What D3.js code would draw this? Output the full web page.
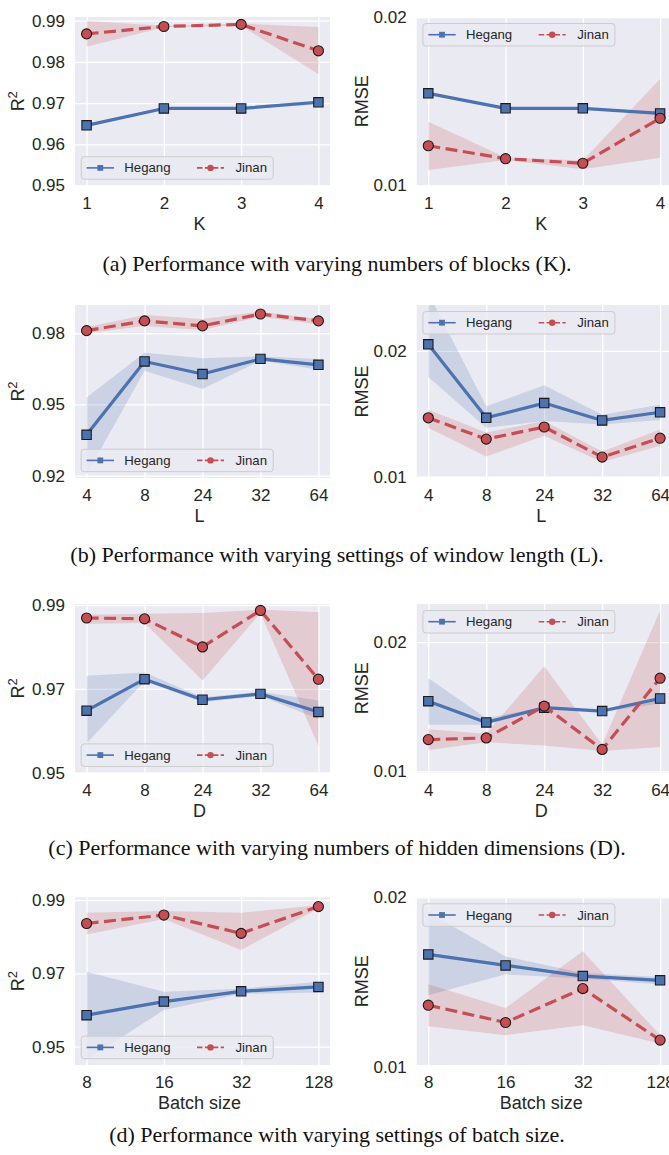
<!DOCTYPE html>
<html>
<head>
<meta charset="utf-8">
<script src="https://cdn.jsdelivr.net/npm/d3@7"></script>
<style>
  body { margin: 0; background: #fff; }
  svg { display: block; }
  .tick text { font-family: "Liberation Sans", Arial, sans-serif; font-size: 17px; fill: #262626; }
</style>
</head>
<body>
<svg id="fig" width="669" height="1155"></svg>
<script>
// ---- categories ----
const blockCounts = ["1", "2", "3", "4"];
const windowLengths = ["4", "8", "24", "32", "64"];
const hiddenDims = ["4", "8", "24", "32", "64"];
const batchSizes = ["8", "16", "32", "128"];

// ---- y tick values ----
const r2TicksK = [0.95, 0.96, 0.97, 0.98, 0.99];
const r2TicksL = [0.92, 0.95, 0.98];
const r2TicksD = [0.95, 0.97, 0.99];
const r2TicksB = [0.95, 0.97, 0.99];
const rmseTicks = [0.01, 0.02];

// ---- (a) number of blocks K ----
const r2HegangK     = [0.9646, 0.9687, 0.9687, 0.9702];
const r2HegangKLo   = [0.9643, 0.9684, 0.9684, 0.9697];
const r2HegangKHi   = [0.9649, 0.9690, 0.9690, 0.9707];
const r2JinanK      = [0.9868, 0.9886, 0.9891, 0.9827];
const r2JinanKLo    = [0.9837, 0.9884, 0.9888, 0.9770];
const r2JinanKHi    = [0.9899, 0.9888, 0.9893, 0.9885];
const rmseHegangK   = [0.01547, 0.01458, 0.01458, 0.01428];
const rmseHegangKLo = [0.01544, 0.01455, 0.01455, 0.01418];
const rmseHegangKHi = [0.01550, 0.01461, 0.01461, 0.01438];
const rmseJinanK    = [0.01236, 0.01159, 0.01132, 0.01399];
const rmseJinanKLo  = [0.01092, 0.01152, 0.01096, 0.01165];
const rmseJinanKHi  = [0.01379, 0.01166, 0.01149, 0.01632];

// ---- (b) window length L ----
const r2HegangL     = [0.9372, 0.9681, 0.9628, 0.9692, 0.9667];
const r2HegangLLo   = [0.9205, 0.9642, 0.9565, 0.9685, 0.9646];
const r2HegangLHi   = [0.9529, 0.9718, 0.9695, 0.9702, 0.9691];
const r2JinanL      = [0.9811, 0.9852, 0.9831, 0.9881, 0.9852];
const r2JinanLLo    = [0.9800, 0.9831, 0.9814, 0.9870, 0.9838];
const r2JinanLHi    = [0.9825, 0.9877, 0.9860, 0.9891, 0.9860];
const rmseHegangL   = [0.02052, 0.01468, 0.01585, 0.01447, 0.01512];
const rmseHegangLLo = [0.01793, 0.01390, 0.01442, 0.01415, 0.01450];
const rmseHegangLHi = [0.02460, 0.01559, 0.01727, 0.01493, 0.01571];
const rmseJinanL    = [0.01468, 0.01299, 0.01395, 0.01156, 0.01306];
const rmseJinanLLo  = [0.01390, 0.01161, 0.01325, 0.01117, 0.01247];
const rmseJinanLHi  = [0.01532, 0.01351, 0.01442, 0.01200, 0.01376];

// ---- (c) hidden dimensions D ----
const r2HegangD     = [0.9648, 0.9723, 0.9674, 0.9688, 0.9645];
const r2HegangDLo   = [0.9570, 0.9718, 0.9668, 0.9683, 0.9628];
const r2HegangDHi   = [0.9731, 0.9739, 0.9680, 0.9693, 0.9672];
const r2JinanD      = [0.9869, 0.9867, 0.9800, 0.9887, 0.9723];
const r2JinanDLo    = [0.9855, 0.9857, 0.9720, 0.9881, 0.9564];
const r2JinanDHi    = [0.9877, 0.9879, 0.9881, 0.9889, 0.9883];
const rmseHegangD   = [0.01543, 0.01379, 0.01493, 0.01467, 0.01564];
const rmseHegangDLo = [0.01360, 0.01360, 0.01485, 0.01460, 0.01525];
const rmseHegangDHi = [0.01721, 0.01411, 0.01501, 0.01474, 0.01584];
const rmseJinanD    = [0.01246, 0.01259, 0.01505, 0.01170, 0.01721];
const rmseJinanDLo  = [0.01165, 0.01226, 0.01200, 0.01158, 0.01188];
const rmseJinanDHi  = [0.01327, 0.01292, 0.01813, 0.01208, 0.02244];

// ---- (d) batch size ----
const r2HegangB     = [0.9586, 0.9623, 0.9651, 0.9663];
const r2HegangBLo   = [0.9464, 0.9600, 0.9644, 0.9648];
const r2HegangBHi   = [0.9704, 0.9650, 0.9658, 0.9677];
const r2JinanB      = [0.9836, 0.9859, 0.9809, 0.9882];
const r2JinanBLo    = [0.9806, 0.9848, 0.9764, 0.9877];
const r2JinanBHi    = [0.9865, 0.9870, 0.9865, 0.9886];
const rmseHegangB   = [0.01663, 0.01598, 0.01535, 0.01510];
const rmseHegangBLo = [0.01422, 0.01545, 0.01520, 0.01485];
const rmseHegangBHi = [0.01912, 0.01651, 0.01553, 0.01529];
const rmseJinanB    = [0.01363, 0.01261, 0.01461, 0.01157];
const rmseJinanBLo  = [0.01239, 0.01186, 0.01245, 0.01137];
const rmseJinanBHi  = [0.01486, 0.01347, 0.01681, 0.01186];

const seriesNames = ["Hegang", "Jinan"];
const captions = [
  "(a) Performance with varying numbers of blocks (K).",
  "(b) Performance with varying settings of window length (L).",
  "(c) Performance with varying numbers of hidden dimensions (D).",
  "(d) Performance with varying settings of batch size."
];

// ---- styling ----
const BLUE = "#4C72B0", RED = "#C44E52", FACE = "#EAEAF2";
const SANS = "'Liberation Sans', Arial, sans-serif";
const SERIF = "'Liberation Serif', 'Times New Roman', serif";
const PLOT_W = 255;
const COL_X = [75, 416.7];

function series(v, lo, hi) { return { v, lo, hi }; }

const rows = [
  { cats: blockCounts, xLabel: "K", top: 17, bottom: 185.5, captionY: 270.5,
    panels: [
      { metric: "r2", domain: [0.95, 0.9909], ticks: r2TicksK, legend: "bottom",
        hegang: series(r2HegangK, r2HegangKLo, r2HegangKHi), jinan: series(r2JinanK, r2JinanKLo, r2JinanKHi) },
      { metric: "rmse", domain: [0.01, 0.02], ticks: rmseTicks, legend: "top",
        hegang: series(rmseHegangK, rmseHegangKLo, rmseHegangKHi), jinan: series(rmseJinanK, rmseJinanKLo, rmseJinanKHi) }
    ] },
  { cats: windowLengths, xLabel: "L", top: 305, bottom: 478, captionY: 562,
    panels: [
      { metric: "r2", domain: [0.9190, 0.9919], ticks: r2TicksL, legend: "bottom",
        hegang: series(r2HegangL, r2HegangLLo, r2HegangLHi), jinan: series(r2JinanL, r2JinanLLo, r2JinanLHi) },
      { metric: "rmse", domain: [0.0099, 0.02364], ticks: rmseTicks, legend: "top",
        hegang: series(rmseHegangL, rmseHegangLLo, rmseHegangLHi), jinan: series(rmseJinanL, rmseJinanLLo, rmseJinanLHi) }
    ] },
  { cats: hiddenDims, xLabel: "D", top: 604, bottom: 772.7, captionY: 855,
    panels: [
      { metric: "r2", domain: [0.95, 0.99024], ticks: r2TicksD, legend: "bottom",
        hegang: series(r2HegangD, r2HegangDLo, r2HegangDHi), jinan: series(r2JinanD, r2JinanDLo, r2JinanDHi) },
      { metric: "rmse", domain: [0.0099, 0.02295], ticks: rmseTicks, legend: "top",
        hegang: series(rmseHegangD, rmseHegangDLo, rmseHegangDHi), jinan: series(rmseJinanD, rmseJinanDLo, rmseJinanDHi) }
    ] },
  { cats: batchSizes, xLabel: "Batch size", top: 897.3, bottom: 1065, captionY: 1142,
    panels: [
      { metric: "r2", domain: [0.9450, 0.99074], ticks: r2TicksB, legend: "bottom",
        hegang: series(r2HegangB, r2HegangBLo, r2HegangBHi), jinan: series(r2JinanB, r2JinanBLo, r2JinanBHi) },
      { metric: "rmse", domain: [0.0101, 0.0200], ticks: rmseTicks, legend: "top",
        hegang: series(rmseHegangB, rmseHegangBLo, rmseHegangBHi), jinan: series(rmseJinanB, rmseJinanBLo, rmseJinanBHi) }
    ] }
];

const svg = d3.select("#fig");
let clipId = 0;

function drawPanel(row, panel, x0) {
  const { cats, top, bottom } = row;
  const h = bottom - top;
  const g = svg.append("g");

  const x = d3.scalePoint().domain(cats).range([x0, x0 + PLOT_W]).padding(0.05 * (cats.length - 1));
  const y = d3.scaleLinear().domain(panel.domain).range([bottom, top]);

  const id = "clip" + (clipId++);
  svg.append("clipPath").attr("id", id)
    .append("rect").attr("x", x0).attr("y", top).attr("width", PLOT_W).attr("height", h);

  g.append("rect").attr("x", x0).attr("y", top).attr("width", PLOT_W).attr("height", h).attr("fill", FACE);

  // y grid + tick labels
  const yAxis = g.append("g").attr("transform", `translate(${x0},0)`)
    .call(d3.axisLeft(y).tickValues(panel.ticks).tickSize(-PLOT_W).tickPadding(10).tickFormat(d3.format(".2f")));
  yAxis.select(".domain").remove();
  yAxis.selectAll(".tick line").attr("stroke", "#fff").attr("stroke-width", 1.3);

  // x grid + tick labels
  const xAxis = g.append("g").attr("transform", `translate(0,${bottom})`)
    .call(d3.axisBottom(x).tickSize(-h).tickPadding(11));
  xAxis.select(".domain").remove();
  xAxis.selectAll(".tick line").attr("stroke", "#fff").attr("stroke-width", 1.3);
  xAxis.selectAll(".tick text").attr("dy", "0.72em");

  // x axis label
  g.append("text").attr("x", x0 + PLOT_W / 2 - 3).attr("y", bottom + 44)
    .attr("text-anchor", "middle").attr("font-family", SANS).attr("font-size", 18).attr("fill", "#262626")
    .text(row.xLabel);

  // y axis label
  const yl = g.append("text")
    .attr("transform", `translate(${x0 - (panel.metric === "r2" ? 51.5 : 48.5)},${(top + bottom) / 2}) rotate(-90)`)
    .attr("text-anchor", "middle").attr("font-family", SANS).attr("font-size", 18).attr("fill", "#262626");
  if (panel.metric === "r2") {
    yl.append("tspan").text("R");
    yl.append("tspan").attr("dy", -7).attr("font-size", 13).text("2");
  } else {
    yl.text("RMSE");
  }

  const plot = g.append("g").attr("clip-path", `url(#${id})`);
  const defs = [
    { s: panel.hegang, color: BLUE, dash: null, shape: d3.symbolSquare, size: 88 },
    { s: panel.jinan, color: RED, dash: "12,5.5", shape: d3.symbolCircle, size: 80 }
  ];

  defs.forEach(d => {
    const pts = cats.map((c, i) => ({ c, v: d.s.v[i], lo: d.s.lo[i], hi: d.s.hi[i] }));
    plot.append("path").datum(pts)
      .attr("d", d3.area().x(p => x(p.c)).y0(p => y(p.lo)).y1(p => y(p.hi)))
      .attr("fill", d.color).attr("fill-opacity", 0.2);
  });
  defs.forEach(d => {
    const pts = cats.map((c, i) => ({ c, v: d.s.v[i] }));
    plot.append("path").datum(pts)
      .attr("d", d3.line().x(p => x(p.c)).y(p => y(p.v)))
      .attr("fill", "none").attr("stroke", d.color).attr("stroke-width", 3.2)
      .attr("stroke-dasharray", d.dash).attr("stroke-linejoin", "round");
    plot.selectAll(null).data(pts).join("path")
      .attr("transform", p => `translate(${x(p.c)},${y(p.v)})`)
      .attr("d", d3.symbol(d.shape, d.size))
      .attr("fill", d.color).attr("stroke", "#1a1a1a").attr("stroke-width", 1.1);
  });

  // legend
  const ly = panel.legend === "bottom" ? bottom - 28.8 : top + 6.5;
  const lg = g.append("g").attr("transform", `translate(${x0},${ly})`);
  lg.append("rect").attr("x", 6.2).attr("y", 0).attr("width", 192).attr("height", 22.5).attr("rx", 3)
    .attr("fill", FACE).attr("fill-opacity", 0.8).attr("stroke", "#cccccc").attr("stroke-width", 1);
  const items = [
    { name: seriesNames[0], color: BLUE, dash: null, shape: d3.symbolSquare, size: 34, x1: 11.6, x2: 39, tx: 49.3 },
    { name: seriesNames[1], color: RED, dash: "5.5,2.4", shape: d3.symbolCircle, size: 32, x1: 122, x2: 149, tx: 160.5 }
  ];
  items.forEach(it => {
    lg.append("line").attr("x1", it.x1).attr("x2", it.x2).attr("y1", 11.2).attr("y2", 11.2)
      .attr("stroke", it.color).attr("stroke-width", 1.6).attr("stroke-dasharray", it.dash);
    lg.append("path").attr("transform", `translate(${(it.x1 + it.x2) / 2},11.2)`)
      .attr("d", d3.symbol(it.shape, it.size)).attr("fill", it.color);
    lg.append("text").attr("x", it.tx).attr("y", 15.8).attr("font-family", SANS).attr("font-size", 13.2)
      .attr("fill", "#262626").text(it.name);
  });
}

rows.forEach((row, ri) => {
  row.panels.forEach((p, pi) => drawPanel(row, p, COL_X[pi]));
  svg.append("text").attr("x", 337).attr("y", row.captionY).attr("text-anchor", "middle")
    .attr("font-family", SERIF).attr("font-size", 22).attr("fill", "#111").text(captions[ri]);
});
</script>
</body>
</html>
